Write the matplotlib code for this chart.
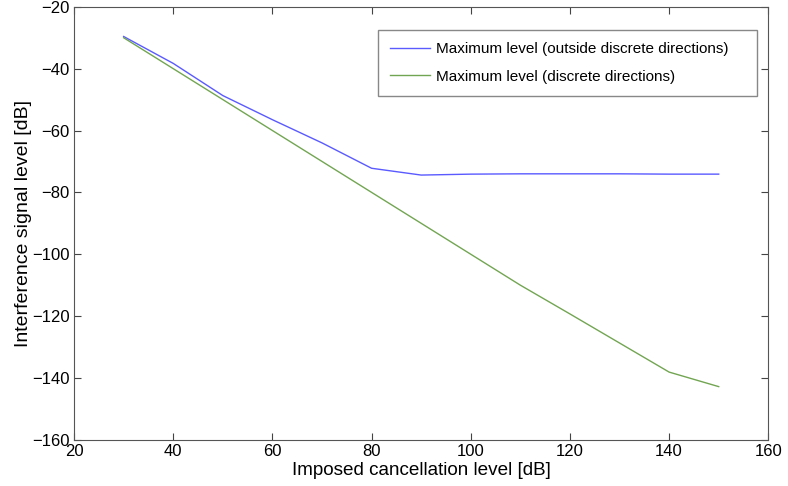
import matplotlib
matplotlib.use("Agg")
import matplotlib.pyplot as plt

plt.rcParams['font.family'] = ['Liberation Sans', 'DejaVu Sans']

# imposed cancellation level [dB]
levels = [30, 40, 50, 60, 70, 80, 90, 100, 110, 120, 130, 140, 150]
# maximum interference level outside the discrete directions [dB]
outside = [-29.6, -38.3, -48.7, -56.5, -64.0, -72.2, -74.4, -74.1, -74.0, -74.0, -74.0, -74.1, -74.1]
# maximum interference level in the discrete directions [dB]
discrete = [-30, -40, -50, -60, -70, -80, -90, -100, -110, -119.3, -128.7, -138.1, -142.8]

fig = plt.figure(figsize=(7.88, 4.86), dpi=100)
ax = fig.add_axes([0.094, 0.095, 0.881, 0.891])

ax.plot(levels, outside, color='#5a5aff', lw=1.0,
        label='Maximum level (outside discrete directions)')
ax.plot(levels, discrete, color='#72a552', lw=1.0,
        label='Maximum level (discrete directions)')

ax.set_xlim(20, 160)
ax.set_ylim(-160, -20)
ax.set_xticks(range(20, 161, 20))
ax.set_yticks(range(-160, -19, 20))
ax.set_yticklabels([f'\u2212{abs(v)}' for v in range(-160, -19, 20)])
ax.tick_params(direction='in', top=True, right=True, length=5, labelsize=12,
               color='#444444', pad=3)
for s in ax.spines.values():
    s.set_color('#555555')

ax.set_xlabel('Imposed cancellation level [dB]', fontsize=13.6, labelpad=2)
ax.set_ylabel('Interference signal level [dB]', fontsize=14, labelpad=0)

# legend box stretched to the width used in the original
leg = ax.legend(loc='upper left', bbox_to_anchor=(0.438, 0.5, 0.546, 0.447),
                mode='expand', fontsize=11,
                fancybox=False, framealpha=1, edgecolor='#888888',
                handlelength=2.6, handletextpad=0.4, borderpad=0.8,
                labelspacing=0.9, borderaxespad=0)
leg.get_frame().set_linewidth(1.0)

fig.savefig('out.png', dpi=100)
